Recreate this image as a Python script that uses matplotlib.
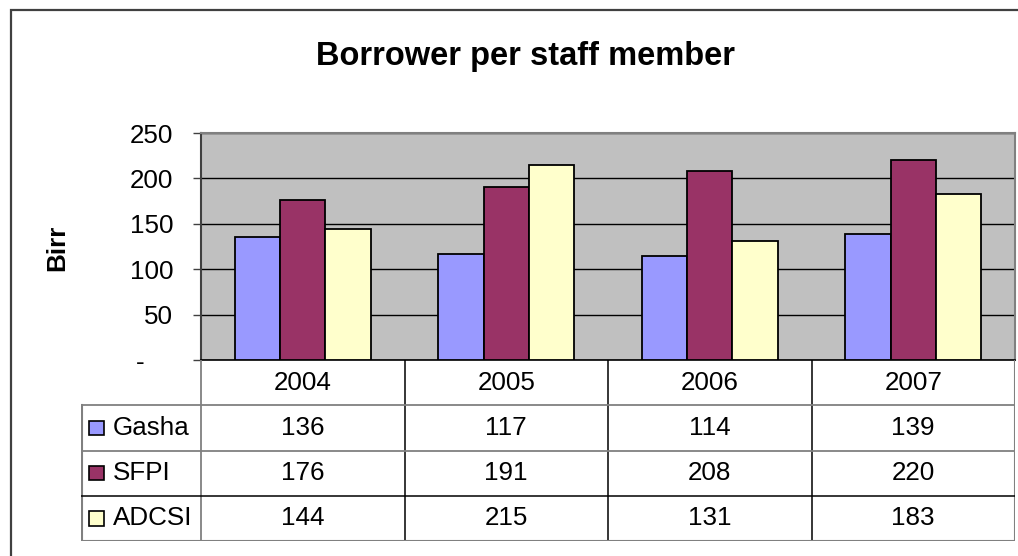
import matplotlib
matplotlib.use("Agg")
import matplotlib.pyplot as plt
from matplotlib.patches import Rectangle
import numpy as np

plt.rcParams['font.family'] = ['Liberation Sans', 'DejaVu Sans']

# ---- data ----
years = ["2004", "2005", "2006", "2007"]
series_names = ["Gasha", "SFPI", "ADCSI"]
gasha = [136, 117, 114, 139]
sfpi = [176, 191, 208, 220]
adcsi = [144, 215, 131, 183]
colors = ["#9999FF", "#993366", "#FFFFCC"]
yticks = [0, 50, 100, 150, 200, 250]
ytick_labels = ["-    ", "50", "100", "150", "200", "250"]
title = "Borrower per staff member"
ylabel = "Birr"

FS = 18.7
W, H = 1018, 556
fig = plt.figure(figsize=(W / 100, H / 100), dpi=100)

def fx(px):
    return px / W

def fy(py):
    return 1 - py / H

# outer chart border (extends beyond right/bottom)
fig.patches.append(Rectangle((fx(11), fy(560)), fx(1040) - fx(11), fy(10) - fy(560),
                             transform=fig.transFigure, fill=False,
                             edgecolor="#404040", linewidth=1.6, zorder=0))

# ---- main plot ----
L, R, T, B = 201, 1015, 133, 360
ax = fig.add_axes([fx(L), fy(B), fx(R) - fx(L), fy(T) - fy(B)])
ax.set_facecolor("#C0C0C0")
values = [gasha, sfpi, adcsi]
x = np.arange(len(years))
bw = 1 / 4.5
for i, (vals, c) in enumerate(zip(values, colors)):
    ax.bar(x + (i - 1) * bw, vals, width=bw, color=c, edgecolor="black",
           linewidth=1.3, zorder=3)
ax.set_xlim(-0.5, len(years) - 0.5)
ax.set_ylim(0, 250)
ax.set_yticks(yticks)
ax.set_yticklabels(ytick_labels, fontsize=FS)
ax.set_xticks([])
ax.yaxis.grid(True, color="black", linewidth=1.0, zorder=1)
ax.set_axisbelow(True)
ax.tick_params(axis='y', length=6, width=1, color="#404040", pad=14)
for s in ["top", "right"]:
    ax.spines[s].set_color("#808080")
    ax.spines[s].set_linewidth(1.5)
ax.spines["left"].set_color("#404040")
ax.spines["left"].set_linewidth(1.5)
ax.spines["bottom"].set_color("black")
ax.spines["bottom"].set_linewidth(1.2)

fig.text(fx(526), fy(56), title, ha="center", va="center",
         fontsize=23.5, fontweight="bold")
fig.text(fx(57), fy(248), ylabel, ha="center", va="center",
         rotation=90, fontsize=FS, fontweight="bold")

# ---- data table ----
TL, TB = 81, 541
tax = fig.add_axes([fx(TL), fy(TB), fx(R) - fx(TL), fy(B) - fy(TB)])
cat_px = (R - L) / len(years)
left_ext = -0.5 - (L - TL) / cat_px
tax.set_xlim(left_ext, len(years) - 0.5)
tax.set_ylim(4, 0)
tax.axis("off")

gray = "#808080"
# vertical lines
tax.plot([-0.5, -0.5], [0, 4], color=gray, lw=1.3)
for b in np.arange(0.5, len(years) - 0.5, 1):
    tax.plot([b, b], [0, 4], color="black", lw=1.1)
tax.plot([len(years) - 0.5] * 2, [0, 4], color=gray, lw=1.5)
tax.plot([left_ext + 0.003] * 2, [1, 4], color=gray, lw=1.5)
# horizontal lines
tax.plot([left_ext, len(years) - 0.5], [1, 1], color=gray, lw=1.3)
tax.plot([left_ext, len(years) - 0.5], [2, 2], color=gray, lw=1.3)
tax.plot([left_ext, len(years) - 0.5], [3, 3], color="black", lw=1.1)
tax.plot([left_ext, len(years) - 0.5], [3.995, 3.995], color=gray, lw=1.5)

for j, yr in enumerate(years):
    tax.text(j, 0.5, yr, ha="center", va="center", fontsize=FS)
for i, (name, vals, c) in enumerate(zip(series_names, values, colors)):
    row = i + 1.5
    for j, v in enumerate(vals):
        tax.text(j, row, str(v), ha="center", va="center", fontsize=FS)
    kx = left_ext + 8 / cat_px
    kw = 15 / cat_px
    tax.add_patch(Rectangle((kx, row - 0.16), kw, 0.32, facecolor=c,
                            edgecolor="black", lw=1.2))
    tax.text(left_ext + 32 / cat_px, row, name, ha="left", va="center",
             fontsize=FS)

fig.savefig("out.png", dpi=100)
